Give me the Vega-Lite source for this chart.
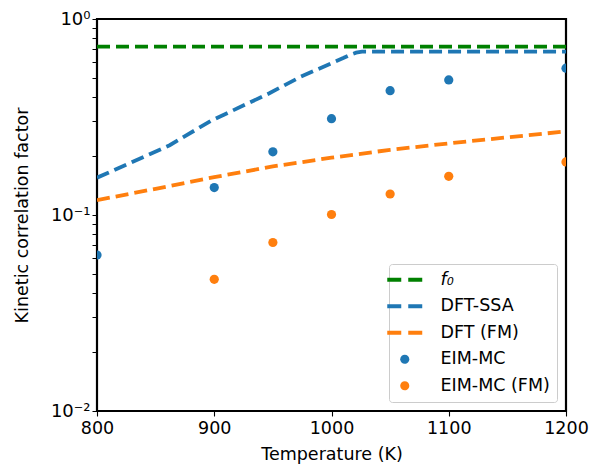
{
  "$schema": "https://vega.github.io/schema/vega-lite/v6.json",
  "width": 469,
  "height": 392,
  "autosize": {"type": "none"},
  "padding": {"left": 97, "top": 19, "right": 41, "bottom": 59},
  "background": "white",
  "config": {
    "font": "DejaVu Sans",
    "view": {"stroke": "black", "strokeWidth": 2.2},
    "axis": {"grid": false, "domain": false, "tickColor": "black", "labelColor": "black", "titleColor": "black", "labelFont": "DejaVu Sans", "titleFont": "DejaVu Sans", "labelFontSize": 17.5, "titleFontSize": 17.5, "titleFontWeight": "normal"}
  },
  "data": {
    "values": [
      {"series": "f₀", "T": 800, "v": 0.723},
      {"series": "f₀", "T": 1200, "v": 0.723},
      {"series": "DFT-SSA", "T": 800, "v": 0.155},
      {"series": "DFT-SSA", "T": 862, "v": 0.227},
      {"series": "DFT-SSA", "T": 897, "v": 0.302},
      {"series": "DFT-SSA", "T": 947, "v": 0.418},
      {"series": "DFT-SSA", "T": 973, "v": 0.505},
      {"series": "DFT-SSA", "T": 1000, "v": 0.595},
      {"series": "DFT-SSA", "T": 1010, "v": 0.632},
      {"series": "DFT-SSA", "T": 1016, "v": 0.657},
      {"series": "DFT-SSA", "T": 1021, "v": 0.673},
      {"series": "DFT-SSA", "T": 1026, "v": 0.681},
      {"series": "DFT-SSA", "T": 1200, "v": 0.681},
      {"series": "DFT (FM)", "T": 800, "v": 0.119},
      {"series": "DFT (FM)", "T": 850, "v": 0.136},
      {"series": "DFT (FM)", "T": 900, "v": 0.156},
      {"series": "DFT (FM)", "T": 950, "v": 0.177},
      {"series": "DFT (FM)", "T": 1000, "v": 0.196},
      {"series": "DFT (FM)", "T": 1050, "v": 0.215},
      {"series": "DFT (FM)", "T": 1100, "v": 0.232},
      {"series": "DFT (FM)", "T": 1150, "v": 0.249},
      {"series": "DFT (FM)", "T": 1200, "v": 0.267},
      {"series": "EIM-MC", "T": 800, "v": 0.0625},
      {"series": "EIM-MC", "T": 900, "v": 0.138},
      {"series": "EIM-MC", "T": 950, "v": 0.21},
      {"series": "EIM-MC", "T": 1000, "v": 0.31},
      {"series": "EIM-MC", "T": 1050, "v": 0.431},
      {"series": "EIM-MC", "T": 1100, "v": 0.489},
      {"series": "EIM-MC", "T": 1200, "v": 0.561},
      {"series": "EIM-MC (FM)", "T": 900, "v": 0.047},
      {"series": "EIM-MC (FM)", "T": 950, "v": 0.0724},
      {"series": "EIM-MC (FM)", "T": 1000, "v": 0.1006},
      {"series": "EIM-MC (FM)", "T": 1050, "v": 0.128},
      {"series": "EIM-MC (FM)", "T": 1100, "v": 0.1575},
      {"series": "EIM-MC (FM)", "T": 1200, "v": 0.1866}
    ]
  },
  "encoding": {
    "x": {
      "field": "T", "type": "quantitative",
      "scale": {"domain": [800, 1200], "nice": false, "zero": false},
      "axis": {"title": "Temperature (K)", "format": "d", "values": [800, 900, 1000, 1100, 1200], "tickSize": 5, "tickWidth": 1.1, "labelPadding": 3, "titlePadding": 9, "labelFlush": false}
    },
    "y": {
      "field": "v", "type": "quantitative",
      "scale": {"type": "log", "domain": [0.01, 1], "nice": false},
      "axis": {
        "title": "Kinetic correlation factor",
        "values": [0.01, 0.02, 0.03, 0.04, 0.05, 0.06, 0.07, 0.08, 0.09, 0.1, 0.2, 0.3, 0.4, 0.5, 0.6, 0.7, 0.8, 0.9, 1],
        "labelExpr": "datum.value == 1 ? '10⁰' : datum.value == 0.1 ? '10⁻¹' : datum.value == 0.01 ? '10⁻²' : ''",
        "labelFontSize": 18,
        "tickSize": 5,
        "labelPadding": 2,
        "titlePadding": 19,
        "labelFlush": false,
        "labelOverlap": false,
        "encode": {
          "ticks": {"update": {
            "x2": {"signal": "indexof([0.01, 0.1, 1], datum.value) >= 0 ? -5 : -3"},
            "strokeWidth": {"signal": "indexof([0.01, 0.1, 1], datum.value) >= 0 ? 1.1 : 0.8"}
          }}
        }
      }
    },
    "color": {
      "field": "series", "type": "nominal",
      "scale": {"domain": ["f₀", "DFT-SSA", "DFT (FM)", "EIM-MC", "EIM-MC (FM)"], "range": ["#008000", "#1f77b4", "#ff7f0e", "#1f77b4", "#ff7f0e"]},
      "legend": {
        "title": null,
        "orient": "bottom-right",
        "offset": 9,
        "padding": 7,
        "rowPadding": 7.5,
        "symbolSize": 306,
        "symbolOffset": 0,
        "labelOffset": 27,
        "labelFont": "DejaVu Sans",
        "labelFontSize": 17.5,
        "labelColor": "black",
        "fillColor": "rgba(255,255,255,0.8)",
        "strokeColor": "#cccccc",
        "cornerRadius": 3,
        "encode": {
          "symbols": {"update": {
            "shape": {"signal": "indexof(['EIM-MC', 'EIM-MC (FM)'], datum.value) >= 0 ? 'M-0.52,0A0.52,0.52,0,1,0,0.52,0A0.52,0.52,0,1,0,-0.52,0Z' : 'M-2,0L-0.4,0M0.4,0L2,0'"},
            "fill": {"signal": "indexof(['EIM-MC', 'EIM-MC (FM)'], datum.value) >= 0 ? scale('color', datum.value) : 'transparent'"},
            "stroke": {"signal": "indexof(['EIM-MC', 'EIM-MC (FM)'], datum.value) >= 0 ? 'transparent' : scale('color', datum.value)"},
            "strokeWidth": {"signal": "indexof(['EIM-MC', 'EIM-MC (FM)'], datum.value) >= 0 ? 0 : 3.8"},
            "opacity": {"value": 1},
            "size": {"value": 306}
          }},
          "labels": {"update": {
            "fontStyle": {"signal": "datum.value == 'f₀' ? 'italic' : 'normal'"}
          }}
        }
      }
    }
  },
  "layer": [
    {
      "transform": [{"filter": {"field": "series", "oneOf": ["f₀", "DFT-SSA", "DFT (FM)"]}}],
      "mark": {"type": "line", "strokeWidth": 3.8, "strokeDash": [13, 6], "clip": true}
    },
    {
      "transform": [{"filter": {"field": "series", "oneOf": ["EIM-MC", "EIM-MC (FM)"]}}],
      "mark": {"type": "circle", "size": 85, "opacity": 1, "clip": true}
    }
  ]
}
